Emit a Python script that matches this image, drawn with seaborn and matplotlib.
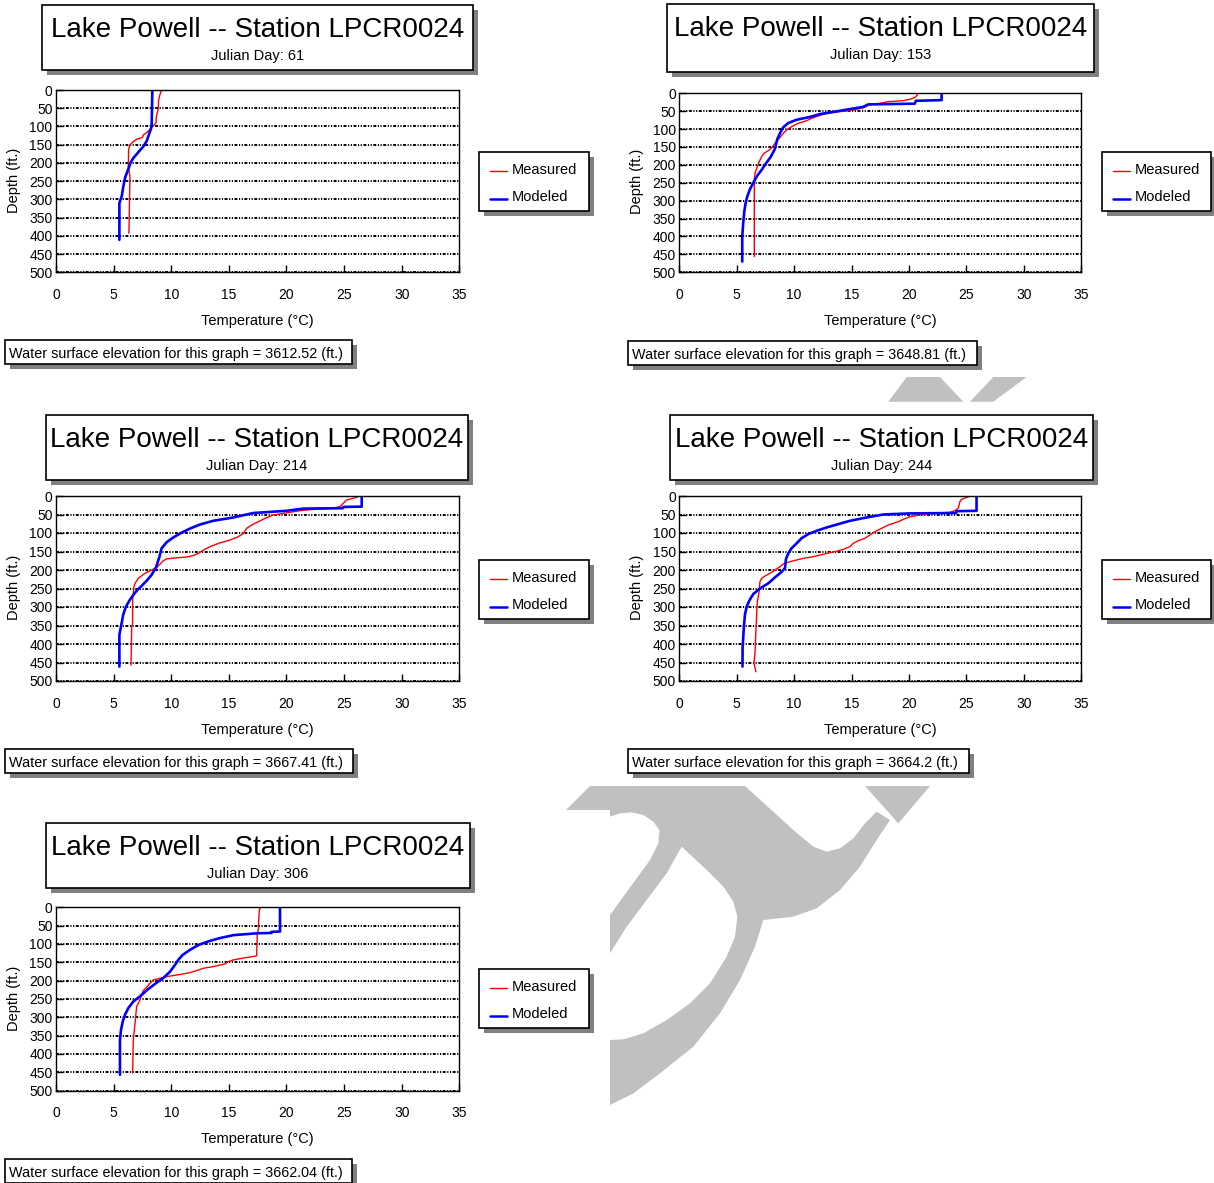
import matplotlib
matplotlib.use("Agg")
import matplotlib.pyplot as plt
from matplotlib.patches import Rectangle, Polygon
import numpy as np
import pandas as pd
import seaborn as sns

W, H, DPI = 1214, 1183, 100

# ---------------- data ----------------
julian_days = [61, 153, 214, 244, 306]
surface_elev = ["3612.52", "3648.81", "3667.41", "3664.2", "3662.04"]
x_ticks = [0, 5, 10, 15, 20, 25, 30, 35]
y_ticks = [0, 50, 100, 150, 200, 250, 300, 350, 400, 450, 500]

# Day 61
meas61_depth = [0, 5, 15, 30, 50, 75, 90, 96, 100, 110, 117, 123, 130, 135, 142, 151, 165, 210, 238, 300, 393]
meas61_temp = [9.2, 9.1, 9.0, 8.9, 8.88, 8.7, 8.68, 8.5, 8.3, 8.1, 7.87, 7.6, 7.5, 7.0, 6.7, 6.4, 6.3, 6.28, 6.42, 6.38, 6.33]
mod61_depth = [0, 100, 115, 128, 140, 155, 165, 176, 187, 199, 210, 224, 240, 265, 292, 310, 411]
mod61_temp = [8.36, 8.3, 8.15, 8.0, 7.87, 7.58, 7.29, 7.0, 6.7, 6.48, 6.35, 6.19, 6.0, 5.84, 5.7, 5.5, 5.5]

# Day 153
meas153_depth = [0, 4.7, 11.2, 16.8, 20.5, 23.3, 27.9, 32.6, 39.1, 46.6, 55.9, 63.3, 69.8, 76.4, 83.8, 93.1,
                 102.4, 111.7, 125.7, 139.7, 149, 158.3, 167.6, 176.9, 190.9, 204.8, 223.5, 242, 456]
meas153_temp = [20.75, 20.72, 20.52, 20.08, 19.5, 18.2, 17.47, 16.45, 16.16, 15.15, 12.83, 12.1, 11.52, 11.09,
                10.36, 9.78, 9.34, 9.05, 8.71, 8.33, 8.13, 7.84, 7.37, 7.17, 6.96, 6.79, 6.59, 6.53, 6.53]
mod153_depth = [0, 19, 21, 29, 31, 38, 44, 52, 58, 66, 74, 83, 95, 108, 128, 155, 178, 196, 214, 230, 250,
                268, 288, 307, 330, 360, 400, 470]
mod153_temp = [22.84, 22.84, 20.6, 20.5, 16.45, 16.0, 14.86, 13.41, 12.25, 11.38, 10.21, 9.49, 9.05, 8.82,
               8.53, 8.33, 7.95, 7.54, 7.17, 6.79, 6.44, 6.15, 5.92, 5.77, 5.66, 5.57, 5.48, 5.48]

# Day 214
meas214_depth = [0, 6.3, 10.8, 19.8, 28.8, 34.2, 36.9, 39.6, 44.1, 51.4, 60.4, 69.4, 78.4, 87.4, 101, 110,
                 119, 128, 137, 146, 155, 161, 165, 167, 170, 175, 184, 193, 200, 209, 222.5, 236, 245,
                 281, 344, 353, 457]
meas214_temp = [26.38, 25.8, 25.22, 24.93, 24.65, 23.78, 22.04, 21.17, 20.31, 18.86, 18.14, 17.56, 16.98,
                16.55, 16.26, 15.82, 15.1, 14.1, 13.36, 12.8, 12.35, 11.9, 11.34, 10.47, 9.6, 9.31, 9.03,
                8.74, 8.3, 7.72, 7.14, 6.86, 6.77, 6.65, 6.65, 6.57, 6.51]
mod214_depth = [0, 28.8, 29.5, 33, 34, 40, 46, 58, 67, 77, 88, 99, 112, 125, 141, 165, 193, 213, 229, 243,
                256, 270, 283, 299, 320, 348, 375, 461]
mod214_temp = [26.53, 26.53, 24.93, 24.9, 21.46, 20.02, 17.12, 15.39, 13.65, 12.5, 11.63, 10.9, 10.18, 9.6,
               9.17, 8.97, 8.68, 8.3, 7.87, 7.43, 7.0, 6.65, 6.36, 6.07, 5.84, 5.67, 5.5, 5.5]

# Day 244
meas244_depth = [0, 3.6, 9, 15.3, 33.3, 39.6, 44.1, 46.8, 51.4, 55.9, 63.1, 69.4, 78.4, 87.4, 96.4, 105.4,
                 114.4, 120.7, 127.9, 136.9, 145.9, 153.2, 159.5, 164, 168.5, 173, 177.5, 183.8, 191, 200,
                 209, 216.2, 222.5, 231.5, 254, 272, 285.6, 326, 362, 425, 452, 475]
meas244_temp = [25.36, 25.01, 24.58, 24.43, 24.29, 24.0, 23.56, 22.11, 20.95, 20.08, 19.5, 19.07, 18.2,
                17.61, 17.03, 16.6, 16.16, 15.58, 15.15, 14.86, 14.13, 13.12, 12.25, 11.67, 10.8, 10.21,
                9.63, 9.05, 8.76, 8.33, 7.89, 7.46, 7.17, 7.02, 6.96, 6.88, 6.79, 6.73, 6.67, 6.59, 6.5, 6.67]
mod244_depth = [0, 40, 41, 46, 47, 50, 58, 67, 76, 85, 94, 103, 114, 128, 141, 155, 170, 195, 205, 220,
                236, 250, 265, 283, 300, 320, 350, 380, 410, 461]
mod244_temp = [25.88, 25.88, 24.14, 24.1, 20.08, 17.76, 16.31, 14.86, 13.84, 12.83, 11.96, 11.23, 10.65,
               10.21, 9.78, 9.49, 9.29, 9.2, 8.91, 8.33, 7.75, 7.02, 6.44, 6.09, 5.86, 5.72, 5.63, 5.57,
               5.51, 5.5]

# Day 306
meas306_depth = [0, 7.3, 34.5, 61.8, 70.9, 132.7, 136.4, 140, 143.6, 148.2, 154.5, 161.8, 166.4, 172.7,
                 178.2, 181.8, 185.5, 189.1, 193.6, 198.2, 207.3, 218.2, 227.3, 239.1, 252.7, 270.9,
                 289.1, 316.4, 343.6, 361.8, 452.7]
meas306_temp = [17.76, 17.65, 17.59, 17.56, 17.47, 17.41, 16.69, 15.97, 15.39, 14.96, 14.67, 13.65, 12.79,
                12.21, 11.63, 11.05, 10.33, 9.6, 9.03, 8.45, 8.16, 7.87, 7.58, 7.43, 7.29, 7.0, 6.94, 6.86,
                6.77, 6.71, 6.65]
mod306_depth = [0, 66, 67, 70, 71, 76, 84, 93, 103, 116, 130, 143, 157, 176, 193, 207, 225, 243, 257, 275,
                293, 312, 335, 362, 457]
mod306_temp = [19.44, 19.44, 18.72, 18.7, 17.41, 15.39, 14.23, 13.22, 12.35, 11.63, 10.99, 10.62, 10.33,
               9.89, 9.31, 8.68, 7.93, 7.29, 6.71, 6.28, 5.99, 5.79, 5.64, 5.55, 5.55]

measured = [(meas61_temp, meas61_depth), (meas153_temp, meas153_depth), (meas214_temp, meas214_depth),
            (meas244_temp, meas244_depth), (meas306_temp, meas306_depth)]
modeled = [(mod61_temp, mod61_depth), (mod153_temp, mod153_depth), (mod214_temp, mod214_depth),
           (mod244_temp, mod244_depth), (mod306_temp, mod306_depth)]

# ---------------- layout (pixels) ----------------
# axes: left, top, right, bottom
AXES = [(56, 90, 459.3, 272.3), (679.3, 93.3, 1081.3, 272.3), (56, 496, 459.3, 681),
        (679.3, 496, 1081.3, 681), (56, 907.3, 459.3, 1090.5)]
TITLE_BOX = [(42, 5, 473, 70), (667, 4, 1094, 72), (46, 415, 468, 480),
             (670, 415, 1093, 480), (46, 823, 470, 888)]
LEGEND_BOX = [(479, 152, 589, 211), (1102, 152, 1211, 211), (479, 560, 589, 619),
              (1102, 560, 1211, 619), (479, 969, 589, 1028)]
WATER_BOX = [(5, 340, 352, 364), (628, 341, 977, 365), (5, 749, 353, 773),
             (628, 749, 969, 773), (5, 1159, 352, 1183)]

RED = "#FF0000"
BLUE = "#0000FF"
SHADOW = "#808080"
GRAY_WM = "#C0C0C0"

sns.set_theme(style="white")
plt.rcParams["font.family"] = ["Liberation Sans", "DejaVu Sans"]
plt.rcParams["text.color"] = "black"
plt.rcParams["axes.labelcolor"] = "black"
plt.rcParams["xtick.color"] = "black"
plt.rcParams["ytick.color"] = "black"

fig = plt.figure(figsize=(W / DPI, H / DPI), dpi=DPI)
fig.patch.set_facecolor("white")

bg = fig.add_axes([0, 0, 1, 1], zorder=0)
bg.set_xlim(0, W)
bg.set_ylim(H, 0)
bg.axis("off")

# ---- watermark fragments (decorative background) ----
def zpt(pts):
    return [(560 + x / 3.0, 780 + y / 3.0) for x, y in pts]

wm_outer = zpt([(18, 90), (90, 18), (555, 18), (700, 150), (760, 200), (800, 215), (840, 205), (880, 175),
                (915, 130), (950, 95), (990, 120), (950, 180), (900, 260), (840, 330), (770, 385),
                (700, 410), (610, 420), (585, 500), (540, 600), (480, 700), (400, 800), (300, 880),
                (220, 940), (150, 975), (150, 90)])
wm_hole1 = zpt([(150, 110), (180, 100), (215, 97), (250, 105), (280, 125), (298, 150), (295, 190),
                (270, 240), (230, 295), (190, 350), (150, 405)])
wm_hole2 = zpt([(150, 520), (200, 440), (260, 360), (320, 280), (365, 200), (440, 270), (490, 320),
                (520, 365), (532, 410), (525, 470), (500, 530), (450, 610), (390, 670), (320, 720),
                (250, 760), (190, 778), (150, 780)])
wm_tri = zpt([(915, 18), (1110, 18), (1015, 130)])
wm_top1 = [(906.7, 377), (940, 377), (963.3, 401.7), (888.3, 401.7)]
wm_top2 = [(993.3, 377), (1026.7, 377), (993.3, 401.7), (970, 401.7)]
for pts in (wm_outer, wm_tri, wm_top1, wm_top2):
    bg.add_patch(Polygon(pts, closed=True, facecolor=GRAY_WM, edgecolor="none", zorder=0.5))
for pts in (wm_hole1, wm_hole2):
    bg.add_patch(Polygon(pts, closed=True, facecolor="white", edgecolor="none", zorder=0.6))


def add_box(box, off=5):
    x0, y0, x1, y1 = box
    bg.add_patch(Rectangle((x0 + off, y0 + off), x1 - x0, y1 - y0, facecolor=SHADOW,
                           edgecolor="none", zorder=1))
    bg.add_patch(Rectangle((x0, y0), x1 - x0, y1 - y0, facecolor="white", edgecolor="black",
                           lw=1.2, zorder=2))


grid_ls = (0, (1.5, 0.8, 0.6, 0.8, 0.6, 0.8))

for i in range(5):
    l, t, r, b = AXES[i]
    ax = fig.add_axes([l / W, 1 - b / H, (r - l) / W, (b - t) / H], zorder=2)
    mt, md = measured[i]
    st, sd = modeled[i]
    sns.lineplot(x=mt, y=md, sort=False, estimator=None, color=RED, lw=1.0, ax=ax)
    sns.lineplot(x=st, y=sd, sort=False, estimator=None, color=BLUE, lw=1.9, ax=ax)
    ax.set_xlim(0, 35)
    ax.set_ylim(500, 0)
    ax.set_xticks(x_ticks)
    ax.set_yticks(y_ticks)
    ax.tick_params(axis="x", direction="in", length=5, width=1, pad=11.5, labelsize=10,
                   bottom=True, top=False)
    ax.tick_params(axis="y", direction="in", length=5, width=1, pad=2.5, labelsize=10,
                   left=True, right=False)
    ax.yaxis.grid(True, color="black", linestyle=grid_ls, lw=1.4)
    ax.xaxis.grid(False)
    for s in ax.spines.values():
        s.set_visible(True)
        s.set_color("black")
        s.set_linewidth(1.0)
    ax.set_facecolor("white")

    ax.set_xlabel("Temperature (°C)", fontsize=10.5)
    ax.xaxis.label.set_verticalalignment("baseline")
    ax.xaxis.set_label_coords((l + r) / 2, b + 53, transform=bg.transData)
    ax.set_ylabel("Depth (ft.)", fontsize=10.5)
    ax.yaxis.label.set_verticalalignment("center")
    ax.yaxis.set_label_coords(l - 42, (t + b) / 2 - 1, transform=bg.transData)

    # title box
    tb = TITLE_BOX[i]
    add_box(tb)
    cx = (tb[0] + tb[2]) / 2
    bg.text(cx, tb[1] + 31.7, "Lake Powell -- Station LPCR0024", fontsize=20, ha="center",
            va="baseline", zorder=3)
    bg.text(cx, tb[1] + 55, f"Julian Day: {julian_days[i]}", fontsize=10.5, ha="center",
            va="baseline", zorder=3)

    # legend box
    lb = LEGEND_BOX[i]
    add_box(lb)
    bg.plot([lb[0] + 11, lb[0] + 27.5], [lb[1] + 19, lb[1] + 19], color=RED, lw=1.0, zorder=3)
    bg.plot([lb[0] + 11, lb[0] + 27.5], [lb[1] + 47, lb[1] + 47], color=BLUE, lw=1.8, zorder=3)
    bg.text(lb[0] + 32.5, lb[1] + 22, "Measured", fontsize=10.5, ha="left", va="baseline", zorder=3)
    bg.text(lb[0] + 32.5, lb[1] + 49, "Modeled", fontsize=10.5, ha="left", va="baseline", zorder=3)

    # water surface box
    wb = WATER_BOX[i]
    add_box(wb)
    bg.text(wb[0] + 4.3, wb[1] + 17.7,
            f"Water surface elevation for this graph = {surface_elev[i]} (ft.)",
            fontsize=10.4, ha="left", va="baseline", zorder=3)

fig.savefig("out.png", dpi=DPI, facecolor="white")
